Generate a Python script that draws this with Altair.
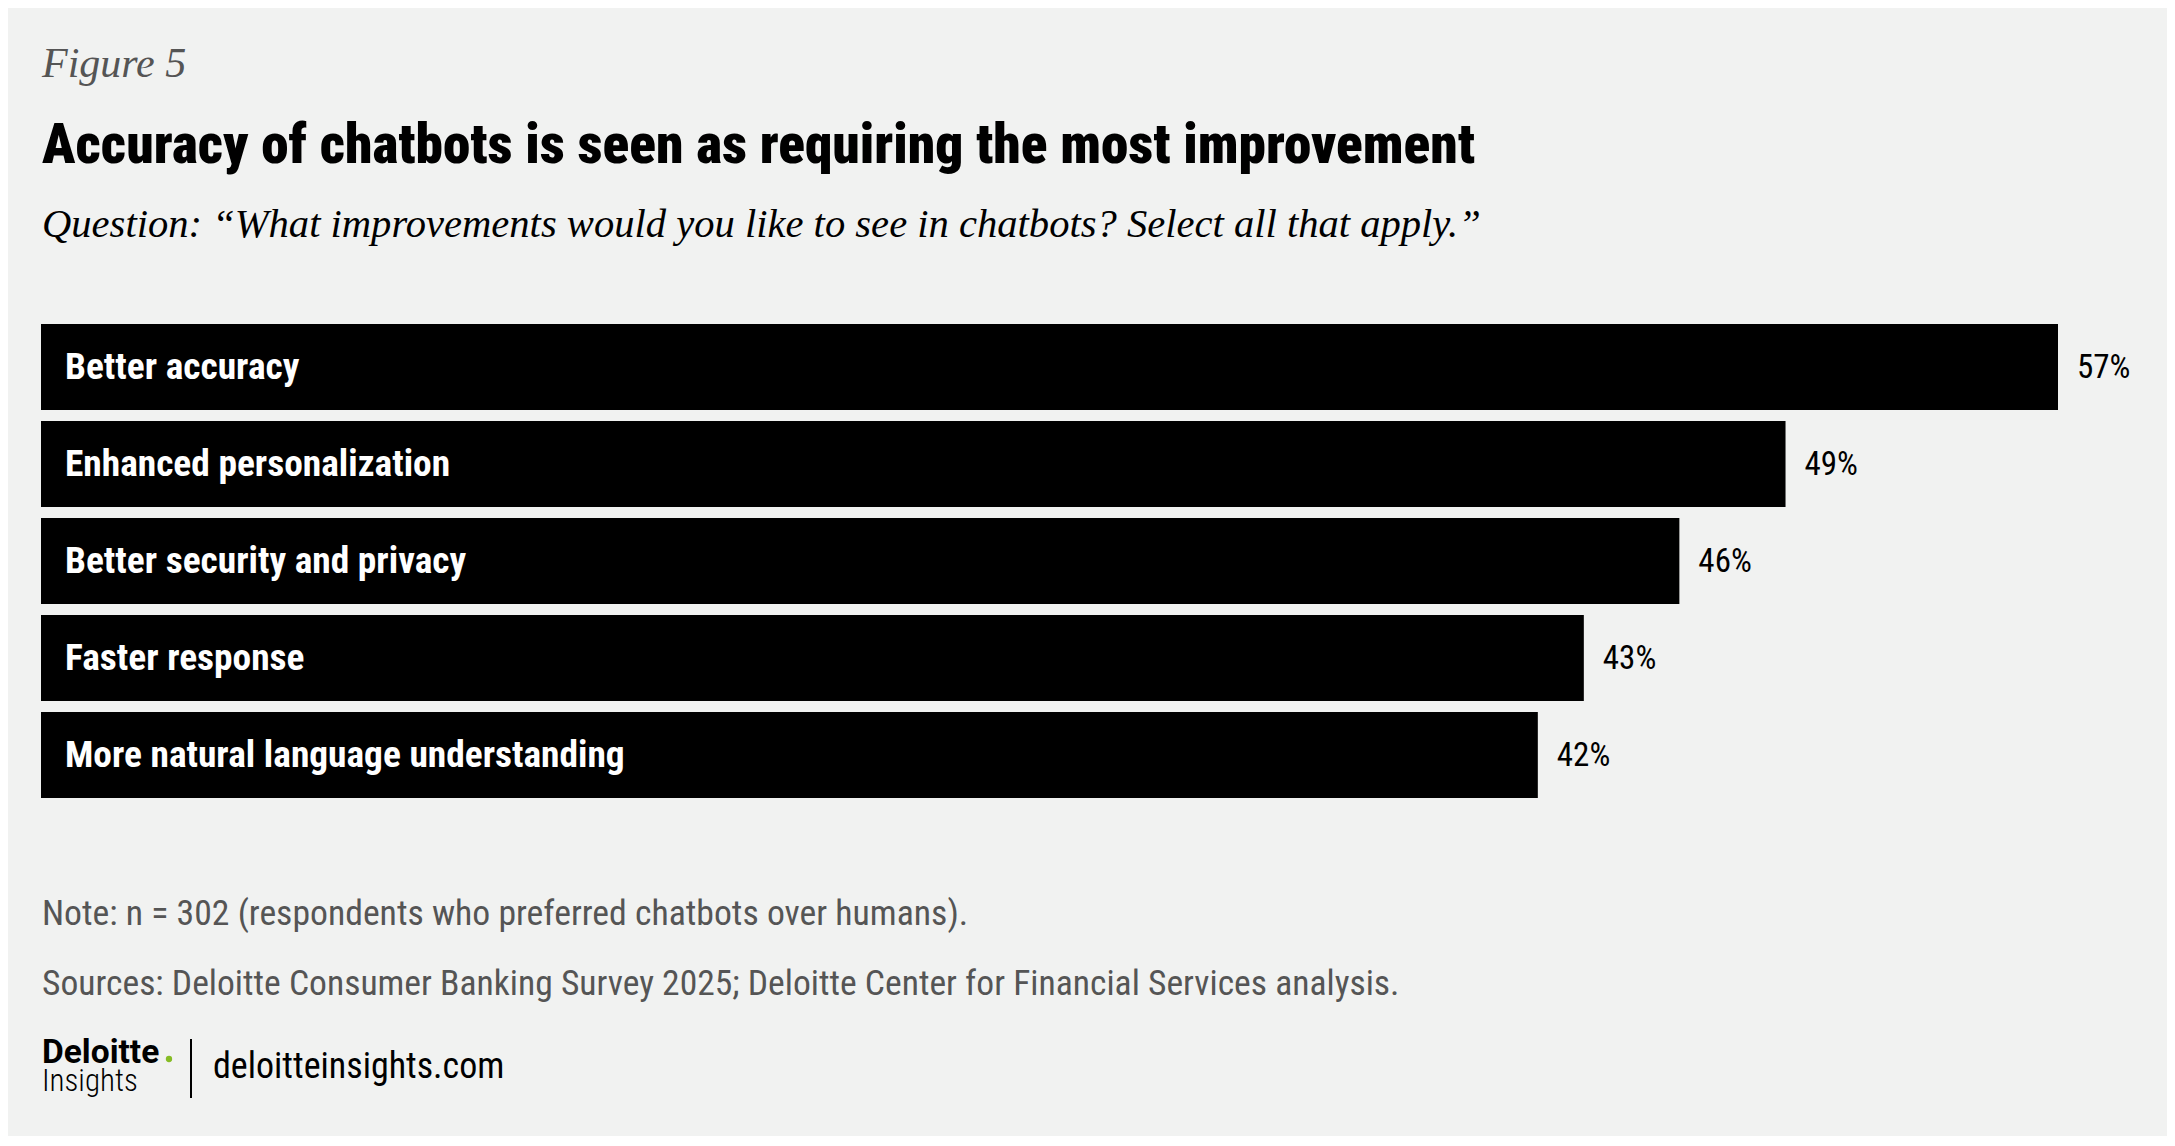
import altair as alt
import pandas as pd

# ---- data ----
categories = [
    "Better accuracy",
    "Enhanced personalization",
    "Better security and privacy",
    "Faster response",
    "More natural language understanding",
]
values = [57.0, 49.3, 46.3, 43.6, 42.3]
value_labels = ["57%", "49%", "46%", "43%", "42%"]

fig_label = "Figure 5"
title_text = "Accuracy of chatbots is seen as requiring the most improvement"
question_text = "Question: \u201cWhat improvements would you like to see in chatbots? Select all that apply.\u201d"
note_text = "Note: n = 302 (respondents who preferred chatbots over humans)."
source_text = "Sources: Deloitte Consumer Banking Survey 2025; Deloitte Center for Financial Services analysis."
url_text = "deloitteinsights.com"

BG = "#f1f2f1"
COND = "'Roboto Condensed', 'Liberation Sans Narrow', 'DejaVu Sans Condensed', 'Arial Narrow', Roboto, sans-serif"
SERIF = "'Liberation Serif', 'DejaVu Serif', serif"
SANS = "Roboto, 'Open Sans', sans-serif"

df = pd.DataFrame({"cat": categories, "v": values, "lab": value_labels})

yenc = alt.Y(
    "cat:N",
    sort=categories,
    scale=alt.Scale(range=[316, 790], paddingInner=0.1134, paddingOuter=0),
    axis=None,
)
xscale = alt.Scale(domain=[0, 57], range=[33, 2050], zero=True)

base = alt.Chart(df)
bars = base.mark_bar(color="#000000").encode(
    x=alt.X("v:Q", scale=xscale, axis=None),
    y=yenc,
)
cat_text = base.mark_text(
    align="left", baseline="middle", color="white", font=COND,
    fontSize=37.4, fontWeight="bold", dy=1,
).encode(x=alt.value(57), y=yenc, text="cat:N")
val_text = base.mark_text(
    align="left", baseline="middle", color="#000000", font=COND,
    fontSize=33, dx=19, dy=1,
).encode(x=alt.X("v:Q", scale=xscale, axis=None), y=yenc, text="lab:N")


one = pd.DataFrame({"k": [0]})


def label(text, x, y, size, color="#000000", font=SANS, weight="normal", style="normal"):
    return alt.Chart(one).mark_text(
        align="left", baseline="alphabetic", fontSize=size, color=color,
        font=font, fontWeight=weight, fontStyle=style,
    ).encode(x=alt.value(x), y=alt.value(y), text=alt.value(text))


layers = [
    bars, cat_text, val_text,
    label(fig_label, 34, 69, 42, color="#555555", font=SERIF, style="italic"),
    label(title_text, 34, 155, 55.3, font=COND, weight=900),
    label(question_text, 34, 229, 40.6, font=SERIF, style="italic"),
    label(note_text, 34, 917, 35.7, color="#555555", font=COND),
    label(source_text, 34, 987, 35.6, color="#555555", font=COND),
    label("Deloitte", 34, 1055, 33.5, font=SANS, weight="bold"),
    label("Insights", 34, 1083, 31, font=COND, weight=300),
    label(url_text, 205, 1070, 36, font=COND),
    alt.Chart(one).mark_rule(color="#000000", strokeWidth=2).encode(
        x=alt.value(183), y=alt.value(1031), y2=alt.value(1090)
    ),
    alt.Chart(one).mark_circle(color="#86BC25", opacity=1, size=40).encode(
        x=alt.value(161), y=alt.value(1051)
    ),
]

chart = alt.layer(*layers).properties(
    width=2159,
    height=1128,
    padding=0,
    background=BG,
    autosize=alt.AutoSizeParams(type="fit", contains="padding"),
).configure_view(stroke=None)

chart.save("out.html", embed_options={"renderer": "svg", "actions": False})
